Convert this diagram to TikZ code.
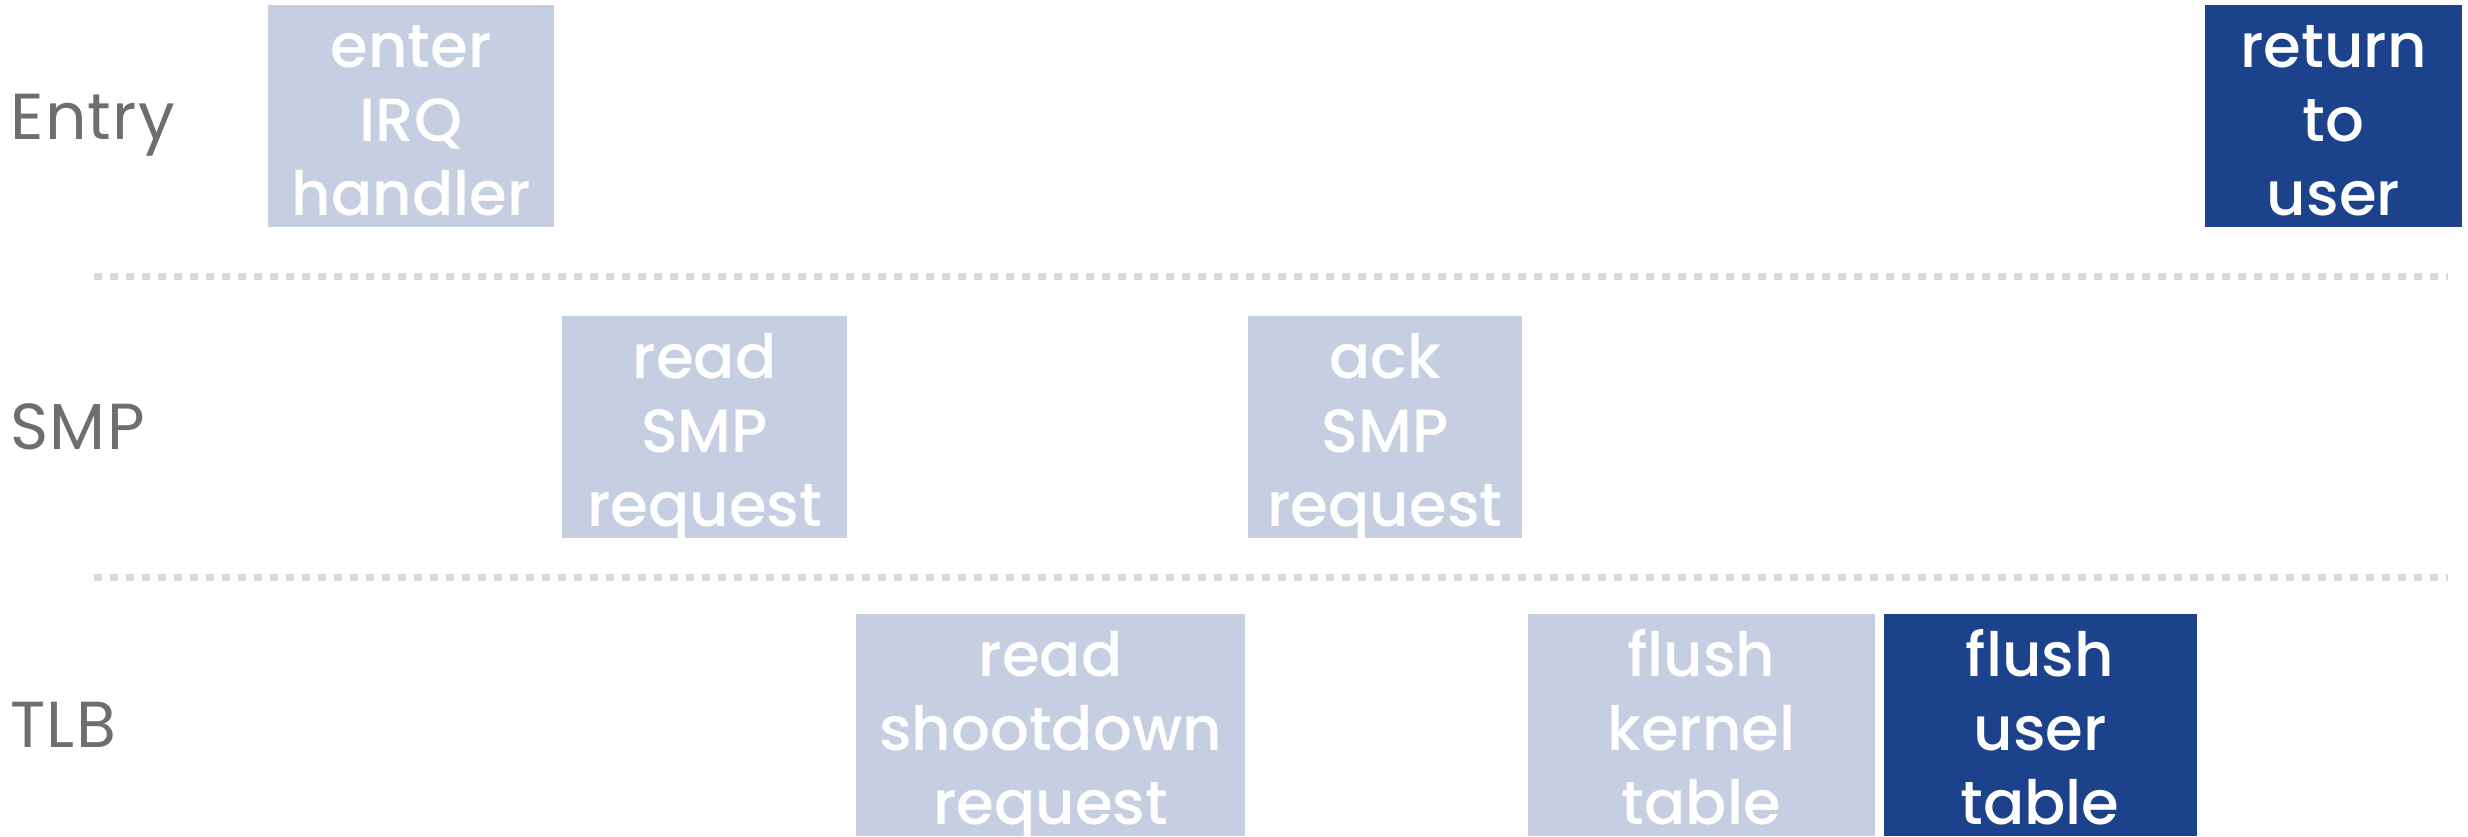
\documentclass[tikz,border=0pt]{standalone}
\usepackage{fontspec}
\setmainfont{Poppins}
\newfontfamily\boxfont{Poppins Medium}
\newfontfamily\lanefont{Poppins}[LetterSpace=2]
\definecolor{paleblue}{RGB}{198,207,226}
\definecolor{deepblue}{RGB}{27,66,138}
\definecolor{lanegray}{RGB}{110,110,114}
\definecolor{dotgray}{RGB}{217,217,217}

% three centred lines; the first row is raised to a fixed height and the
% last one smashed so that the middle line sits just below the box centre
\newcommand\threelines[3]{\rule{0pt}{25pt}#1\\#2\\\smash{#3}}

\begin{document}
\begin{tikzpicture}[x=0.5pt,y=-0.5pt,
  stepbox/.style={rectangle, inner sep=0pt, minimum height=111pt, align=center,
    text=white, font=\boxfont\fontsize{30.5}{37}\selectfont},
  pale/.style={stepbox, fill=paleblue},
  deep/.style={stepbox, fill=deepblue},
  lane/.style={anchor=base west, inner sep=0pt, text=lanegray,
    font=\lanefont\fontsize{32.5}{38}\selectfont},
  divider/.style={draw=dotgray, line width=3.5pt, dash pattern=on 4.1pt off 3.9pt}]

\useasboundingbox (0,0) rectangle (2468,836);

% lane labels
\node[lane] (entrylbl) at (10,139) {Entry};
\node[lane] (smplbl)   at (10,449) {SMP};
\node[lane] (tlblbl)   at (10,747) {TLB};

% lane dividers
\coordinate (d1a) at (94,276);  \coordinate (d1b) at (2448,276);
\coordinate (d2a) at (94,577);  \coordinate (d2b) at (2448,577);
\draw[divider] (d1a) -- (d1b);
\draw[divider] (d2a) -- (d2b);

% Entry lane
\node[pale, minimum width=143pt]   (enter) at (411,116)    {\threelines{enter}{IRQ}{handler}};
\node[deep, minimum width=128.5pt] (ret)   at (2333.5,116) {\threelines{return}{to}{user}};

% SMP lane
\node[pale, minimum width=142.5pt] (readsmp) at (704.5,427) {\threelines{read}{SMP}{request}};
\node[pale, minimum width=137pt]   (acksmp)  at (1385,427)  {\threelines{ack}{SMP}{request}};

% TLB lane
\node[pale, minimum width=194.5pt] (readsd) at (1050.5,725) {\threelines{read}{shootdown}{request}};
\node[pale, minimum width=173.5pt] (flushk) at (1701.5,725) {\threelines{flush}{kernel}{table}};
\node[deep, minimum width=156.5pt] (flushu) at (2040,725)   {\threelines{flush}{user}{table}};
\end{tikzpicture}
\end{document}
